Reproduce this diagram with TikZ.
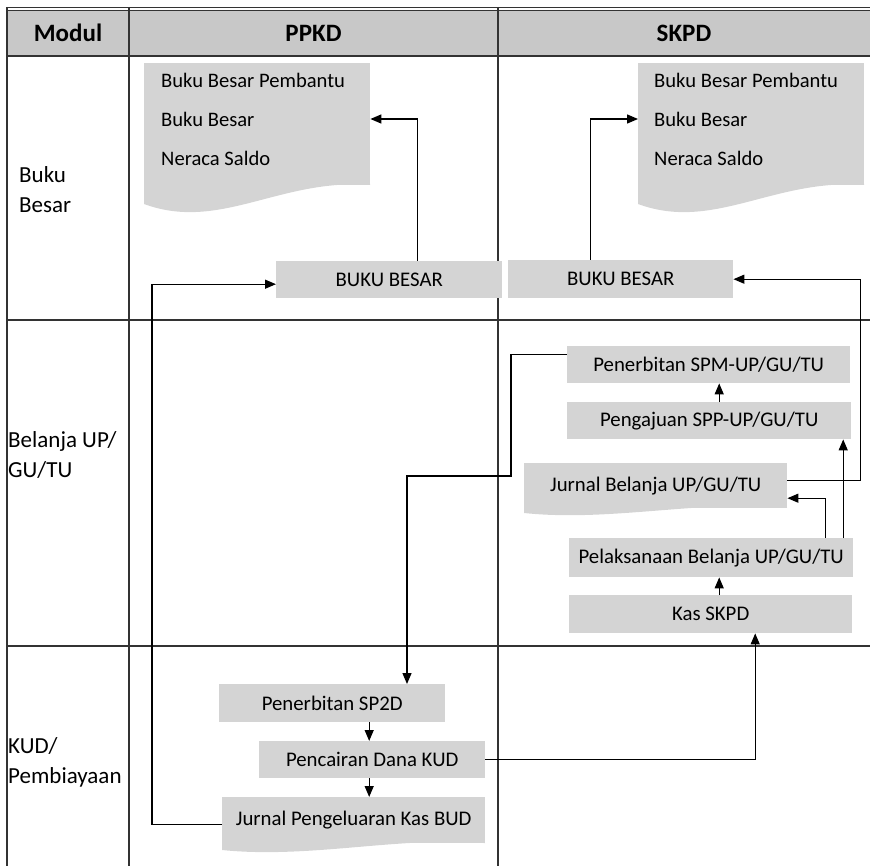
\documentclass[tikz,border=0pt]{standalone}
\usepackage{fontspec}
\setmainfont{Carlito}
\usetikzlibrary{arrows.meta,positioning}
\definecolor{abukotak}{HTML}{D4D4D4}
\definecolor{abukepala}{HTML}{C8C8C8}
\definecolor{garistabel}{HTML}{333333}

\begin{document}
\begin{tikzpicture}[x=1pt,y=-1pt,
  kotak/.style={fill=abukotak,inner sep=0pt,anchor=north west,font=\fontsize{20.8}{24}\selectfont},
  teks/.style={inner sep=0pt,anchor=west,font=\fontsize{20.6}{24}\selectfont},
  judul/.style={inner sep=0pt,font=\fontsize{25}{30}\selectfont\bfseries},
  modul/.style={inner sep=0pt,anchor=west,align=left,font=\fontsize{23}{30}\selectfont},
  garis/.style={draw=garistabel,line width=1.3pt},
  panah/.style={-{Triangle[length=11pt,width=9pt]},line width=1.3pt}
]
\useasboundingbox (0,0) rectangle (870,866);
% tabel
\fill[abukepala] (7,10.5) rectangle (870,56);
\draw[garistabel,line width=0.9pt] (7,7.5) -- (870,7.5) (7,10.5) -- (870,10.5);
\foreach \y in {56,320,646} \draw[garis] (7,\y) -- (870,\y);
\foreach \x in {7,129,498} \draw[garis] (\x,7) -- (\x,866);
\node[judul] (hmodul) at (68,33) {Modul};
\node[judul] (hppkd) at (313.5,33) {PPKD};
\node[judul] (hskpd) at (684,33) {SKPD};
\node[modul] (mbb) at (19,190) {Buku\\Besar};
\node[modul] (mbel) at (8,455) {Belanja UP/\\GU/TU};
\node[modul] (mkud) at (8,762) {KUD/\\Pembiayaan};

% dokumen buku besar
\node[kotak,minimum width=226pt,minimum height=122pt] (dokppkd) at (144,63) {};
\fill[abukotak] (144,184) -- (144,204) .. controls (220,232) and (280,178) .. (370,185) -- (370,184) -- cycle;
\node[teks] (ppkd1) at (161,80) {Buku Besar Pembantu};
\node[teks] (ppkd2) at (161,119) {Buku Besar};
\node[teks] (ppkd3) at (161,158) {Neraca Saldo};
\node[kotak,minimum width=226pt,minimum height=122pt] (dokskpd) at (638,63) {};
\fill[abukotak] (638,184) -- (638,204) .. controls (714,232) and (774,178) .. (864,185) -- (864,184) -- cycle;
\node[teks] (skpd1) at (654,80) {Buku Besar Pembantu};
\node[teks] (skpd2) at (654,119) {Buku Besar};
\node[teks] (skpd3) at (654,158) {Neraca Saldo};

\node[kotak,minimum width=226pt,minimum height=37pt] (bbppkd) at (276,261) {BUKU BESAR};
\node[kotak,minimum width=225pt,minimum height=38pt] (bbskpd) at (508,260) {BUKU BESAR};

% belanja SKPD
\node[kotak,minimum width=283pt,minimum height=37pt] (spm) at (567,346) {Penerbitan SPM-UP/GU/TU};
\node[kotak,minimum width=284pt,minimum height=37pt] (spp) at (567,402) {Pengajuan SPP-UP/GU/TU};
\node[kotak,minimum width=263pt,minimum height=45pt] (jbel) at (524,463) {Jurnal Belanja UP/GU/TU};
\fill[abukotak] (524,507) -- (524,513) .. controls (610,522) and (700,500) .. (787,507) -- cycle;
\node[kotak,minimum width=284pt,minimum height=39pt] (pelak) at (569,538) {Pelaksanaan Belanja UP/GU/TU};
\node[kotak,minimum width=283pt,minimum height=38pt] (kas) at (569,595) {Kas SKPD};

% KUD
\node[kotak,minimum width=226pt,minimum height=38pt] (sp2d) at (219,684) {Penerbitan SP2D};
\node[kotak,minimum width=226pt,minimum height=37pt] (cair) at (259,741) {Pencairan Dana KUD};
\node[kotak,minimum width=263pt,minimum height=46pt] (jpkb) at (222,797) {Jurnal Pengeluaran Kas BUD};
\fill[abukotak] (222,842) -- (222,850) .. controls (310,859) and (400,836) .. (485,843) -- cycle;

% panah
\draw[panah] ([xshift=28pt]bbppkd.north) |- (dokppkd.east |- ppkd2);
\draw[panah] ([xshift=-30pt]bbskpd.north) |- (dokskpd.west |- skpd2);
\draw[panah] ([yshift=-4pt]jpkb.west) -- ++(-70,0) |- ([yshift=-4.5pt]bbppkd.west);
\draw[panah] ([yshift=5pt]jbel.east) -- ++(73,0) |- (bbskpd.east);
\coordinate (belok) at (407,476);
\draw[panah] ([yshift=10.5pt]spm.west) -- ++(-56,0) |- (belok) -- (belok |- sp2d.north);
\draw[panah] (cair.east) -| ([xshift=44.5pt]kas.south);
\draw[panah] ([xshift=-3pt]cair.north |- sp2d.south) -- ([xshift=-3pt]cair.north);
\draw[panah] ([xshift=-3pt]cair.south) -- ([xshift=-3pt]cair.south |- jpkb.north);
\draw[panah] ([xshift=10pt]spp.north) -- ([xshift=10pt]spp.north |- spm.south);
\draw[panah] ([xshift=8.5pt]kas.north) -- ([xshift=8.5pt]kas.north |- pelak.south);
\draw[panah] ([xshift=114pt]pelak.north) |- ([yshift=-12.5pt]jbel.east);
\draw[panah] ([xshift=132pt]pelak.north) -- ([xshift=132pt]pelak.north |- spp.south);
\end{tikzpicture}
\end{document}
